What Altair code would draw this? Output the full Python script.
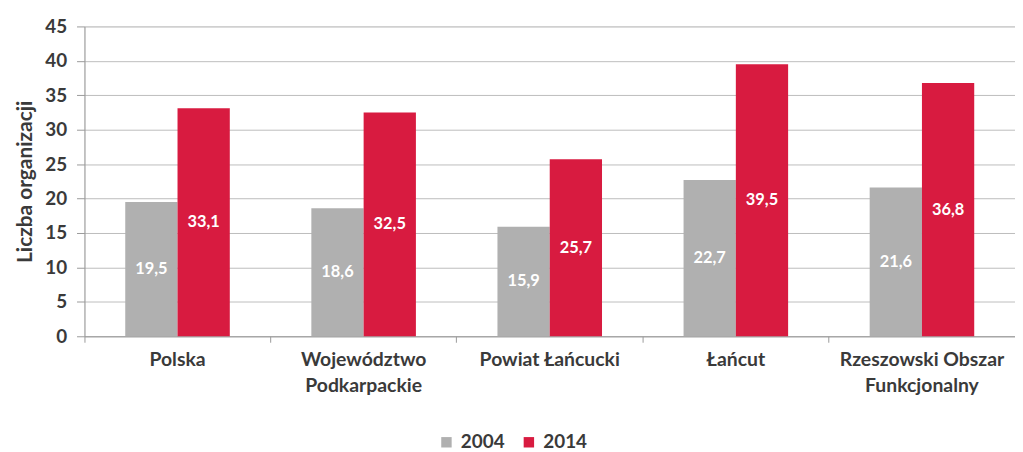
import altair as alt
import pandas as pd

categories = ["Polska", "Województwo|Podkarpackie", "Powiat Łańcucki", "Łańcut", "Rzeszowski Obszar|Funkcjonalny"]
years = ["2004", "2014"]
values_2004 = [19.5, 18.6, 15.9, 22.7, 21.6]
values_2014 = [33.1, 32.5, 25.7, 39.5, 36.8]
y_ticks = [0, 5, 10, 15, 20, 25, 30, 35, 40, 45]

rows = []
for c, v in zip(categories, values_2004):
    rows.append({"cat": c, "year": "2004", "value": v, "mid": v / 2, "label": f"{v:.1f}".replace(".", ",")})
for c, v in zip(categories, values_2014):
    rows.append({"cat": c, "year": "2014", "value": v, "mid": v / 2, "label": f"{v:.1f}".replace(".", ",")})
df = pd.DataFrame(rows)

FONT = "Lato"
TXT = "#3a3a3a"

y_axis = alt.Axis(values=y_ticks, labelOverlap=False, labelFont=FONT,
                  labelFontSize=19, labelFontWeight="bold", labelColor=TXT,
                  labelPadding=10, tickSize=8, tickColor="#9a9a9a",
                  domainColor="#9a9a9a", gridColor="#bdbdbd",
                  titleFont=FONT, titleFontSize=21, titleFontWeight="bold",
                  titleColor=TXT, titlePadding=9)
y_scale = alt.Scale(domain=[0, 45], nice=False)
x_axis = alt.Axis(labelExpr="split(datum.label, '|')", labelAngle=0,
                  labelFont=FONT, labelFontSize=19.5, labelFontWeight="bold",
                  labelColor=TXT, labelPadding=8, labelLineHeight=27,
                  bandPosition=0, tickSize=6, tickColor="#9a9a9a",
                  domainColor="#9a9a9a", grid=False, labelBaseline="top")
x_scale = alt.Scale(paddingInner=0, paddingOuter=0)
xo_scale = alt.Scale(paddingInner=0, paddingOuter=0.78)

base = alt.Chart(df)

bars = base.mark_bar().encode(
    x=alt.X("cat:N", sort=categories, title=None, scale=x_scale, axis=x_axis),
    xOffset=alt.XOffset("year:N", sort=years, scale=xo_scale),
    y=alt.Y("value:Q", title="Liczba organizacji", scale=y_scale, axis=y_axis),
    color=alt.Color("year:N", sort=years, title=None,
                    scale=alt.Scale(domain=years, range=["#b0b0b0", "#d81b40"]),
                    legend=alt.Legend(orient="none", direction="horizontal",
                                      legendX=355, legendY=409,
                                      symbolType="square", symbolSize=110,
                                      symbolStrokeWidth=0, labelFont=FONT,
                                      labelFontSize=19, labelFontWeight="bold",
                                      labelColor=TXT, labelOffset=5, columnPadding=14)),
)

labels = base.mark_text(font=FONT, fontSize=16.5, fontWeight="bold", color="white").encode(
    x=alt.X("cat:N", sort=categories, title=None, scale=x_scale, axis=x_axis),
    xOffset=alt.XOffset("year:N", sort=years, scale=xo_scale),
    y=alt.Y("mid:Q", title="Liczba organizacji", scale=y_scale, axis=y_axis),
    text="label:N",
)

chart = (bars + labels).properties(
    width=937, height=312,
    autosize=alt.AutoSizeParams(type="none"),
    padding={"left": 77, "top": 17, "right": 0, "bottom": 118},
).configure_view(stroke=None).configure(background="white")

chart.save("out.html", embed_options={"renderer": "svg", "actions": False})
